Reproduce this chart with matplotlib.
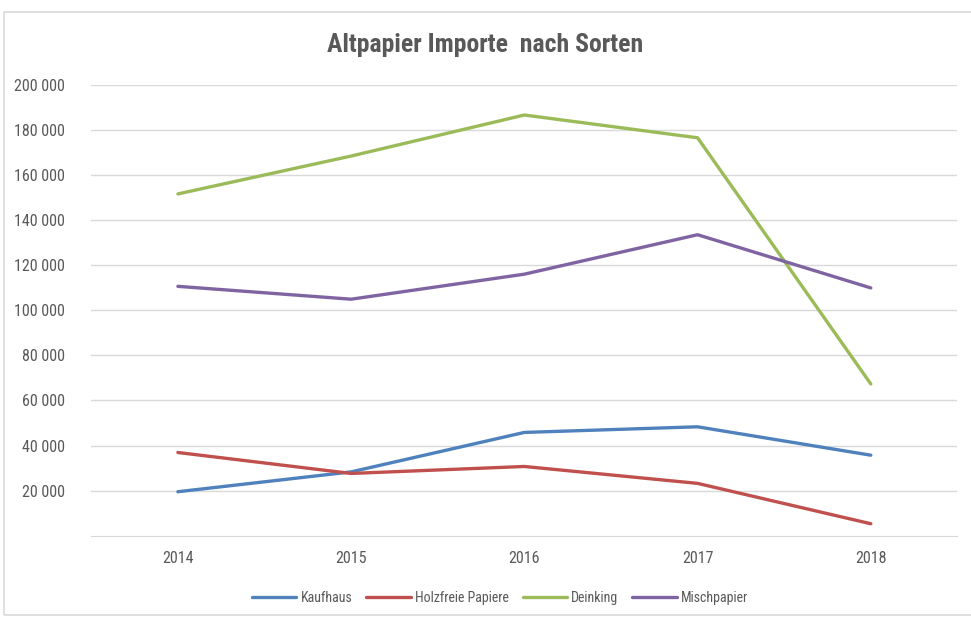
import matplotlib.pyplot as plt
from matplotlib import font_manager
from matplotlib.patches import Rectangle
from matplotlib.ticker import FuncFormatter

# narrow font like in the original, whichever one is available
names = {f.name for f in font_manager.fontManager.ttflist}
narrow = [n for n in ['Liberation Sans Narrow', 'DejaVu Sans Condensed', 'Roboto Condensed',
                      'Open Sans Condensed'] if n in names]
plt.rcParams['font.family'] = narrow + ['DejaVu Sans']
plt.rcParams['font.stretch'] = 'condensed'

years = ['2014', '2015', '2016', '2017', '2018']
kaufhaus = [19500, 28300, 45800, 48300, 35700]
holzfrei = [36900, 27600, 30700, 23200, 5300]
deinking = [151600, 168400, 186600, 176500, 67300]
mischpapier = [110600, 104900, 116000, 133500, 109900]

series = [
    ('Kaufhaus', kaufhaus, '#4F81BD'),
    ('Holzfreie Papiere', holzfrei, '#C0504D'),
    ('Deinking', deinking, '#9BBB59'),
    ('Mischpapier', mischpapier, '#8064A2'),
]

fig = plt.figure(figsize=(9.71, 6.19), dpi=100)
ax = fig.add_axes([0.094, 0.1346, 0.892, 0.7284])

x = range(len(years))
for name, vals, col in series:
    ax.plot(x, vals, color=col, lw=2.4, label=name, solid_capstyle='round')

ax.set_xlim(-0.5, len(years) - 0.5)
ax.set_ylim(0, 200000)
ax.set_yticks(range(20000, 200001, 20000))
ax.yaxis.set_major_formatter(FuncFormatter(lambda v, p: f'{int(v):,}'.replace(',', ' ')))
ax.set_xticks(list(x))
ax.set_xticklabels(years)
ax.grid(axis='y', color='#d9d9d9', lw=1)
ax.set_axisbelow(True)
for s in ['top', 'right', 'left']:
    ax.spines[s].set_visible(False)
ax.spines['bottom'].set_color('#d9d9d9')
ax.tick_params(length=0, colors='#595959', labelsize=11.5)
ax.tick_params(axis='x', pad=11)
ax.tick_params(axis='y', pad=19)

fig.text(0.5, 0.928, 'Altpapier Importe  nach Sorten', ha='center', va='center',
         fontsize=18.5, fontweight='bold', color='#595959')

fig.legend(loc='center', bbox_to_anchor=(0.515, 0.034), ncol=4, frameon=False,
           fontsize=10, labelcolor='#595959', handlelength=3.2, columnspacing=1.0,
           handletextpad=0.3)

fig.patches.append(Rectangle((4 / 971, 4 / 619), 1.0, 603 / 619, transform=fig.transFigure,
                             fill=False, edgecolor='#d9d9d9', lw=1.2))

fig.savefig('out.png', dpi=100)
